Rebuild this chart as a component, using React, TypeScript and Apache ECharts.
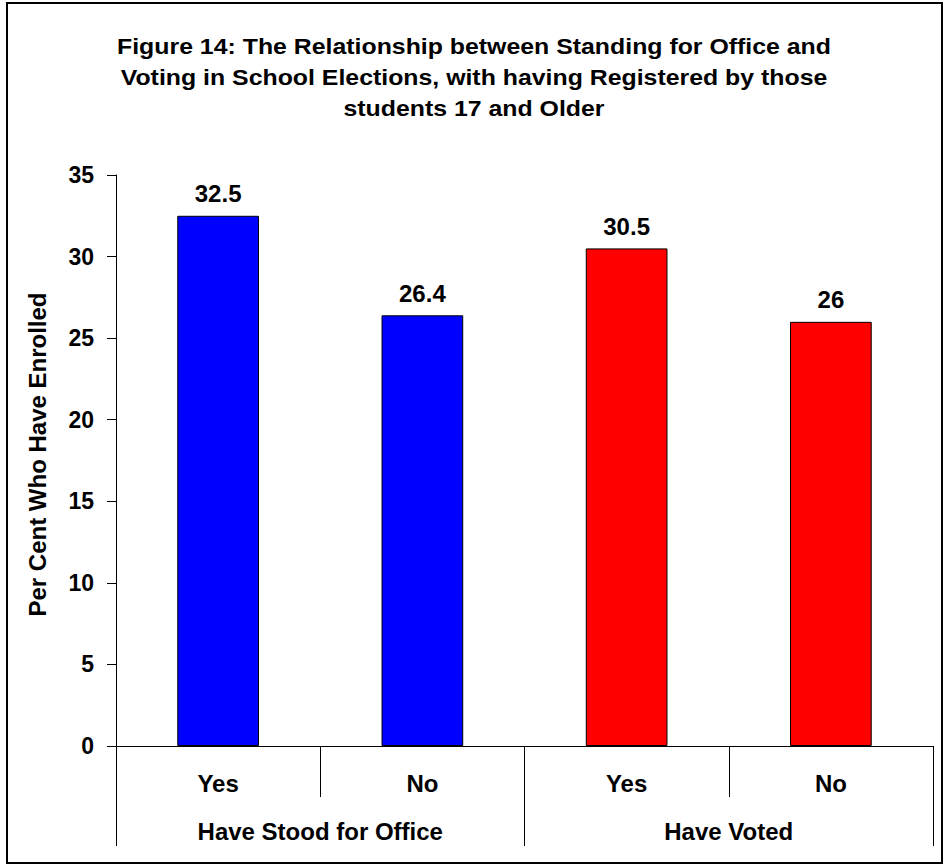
import React, { useEffect, useRef } from "react";
import * as echarts from "echarts";

const titleLines = [
  "Figure 14: The Relationship between Standing for Office and",
  "Voting in School Elections, with having Registered by those",
  "students 17 and Older",
];
const categories = ["Yes", "No", "Yes", "No"];
const groups = ["Have Stood for Office", "Have Voted"];
const values = [32.5, 26.4, 30.5, 26];
const barColors = ["#0000FF", "#0000FF", "#FF0000", "#FF0000"];
const yAxisName = "Per Cent Who Have Enrolled";
const yMin = 0;
const yMax = 35;
const yInterval = 5;

const FONT = 'Arial, "Liberation Sans", sans-serif';

export default function App() {
  const ref = useRef<HTMLDivElement>(null);
  useEffect(() => {
    if (!ref.current) return;
    const chart = echarts.init(ref.current, null, { renderer: "svg" });
    const lbl = { fontFamily: FONT, fontWeight: "bold" as const, fontSize: 24, color: "#000" };
    chart.setOption({
      animation: false,
      backgroundColor: "#fff",
      grid: { left: 116, right: 11, top: 175, bottom: 119, containLabel: false },
      graphic: [
        {
          type: "rect",
          shape: { x: 7, y: 3, width: 935, height: 860 },
          style: { fill: "none", stroke: "#000", lineWidth: 2 },
          silent: true,
        },
        {
          type: "text",
          x: 474,
          y: 31,
          scaleX: 1.13,
          style: {
            text: titleLines.join("\n"),
            font: `bold 22px ${FONT}`,
            fill: "#000",
            textAlign: "center",
            lineHeight: 31,
          },
        },
      ],
      xAxis: [
        {
          type: "category",
          data: categories,
          position: "bottom",
          axisLine: { show: true, lineStyle: { color: "#000", width: 1 } },
          axisTick: { show: true, interval: 0, length: 51, lineStyle: { color: "#000" } },
          axisLabel: { ...lbl, margin: 25, interval: 0 },
          splitLine: { show: false },
        },
        {
          type: "category",
          data: groups,
          position: "bottom",
          axisLine: { show: false },
          axisTick: { show: true, interval: 0, length: 100, lineStyle: { color: "#000" } },
          axisLabel: { ...lbl, margin: 73, interval: 0 },
          splitLine: { show: false },
        },
      ],
      yAxis: {
        type: "value",
        min: yMin,
        max: yMax,
        interval: yInterval,
        name: yAxisName,
        nameLocation: "middle",
        nameGap: 67,
        nameRotate: 90,
        nameTextStyle: { ...lbl, padding: [0, 0, 0, 12] },
        axisLine: { show: true, lineStyle: { color: "#000", width: 1 } },
        axisTick: { show: true, length: 9, lineStyle: { color: "#000" } },
        axisLabel: { ...lbl, fontSize: 23, margin: 22 },
        splitLine: { show: false },
      },
      series: [
        {
          type: "bar",
          xAxisIndex: 0,
          barWidth: "40%",
          data: values.map((v, i) => ({
            value: v,
            itemStyle: { color: barColors[i], borderColor: "#000", borderWidth: 1 },
          })),
          label: { show: true, position: "top", distance: 10, ...lbl },
        },
      ],
    });
    return () => chart.dispose();
  }, []);
  return (
    <div
      ref={ref}
      style={{ position: "fixed", left: 0, top: 0, width: 944, height: 865 }}
    />
  );
}
